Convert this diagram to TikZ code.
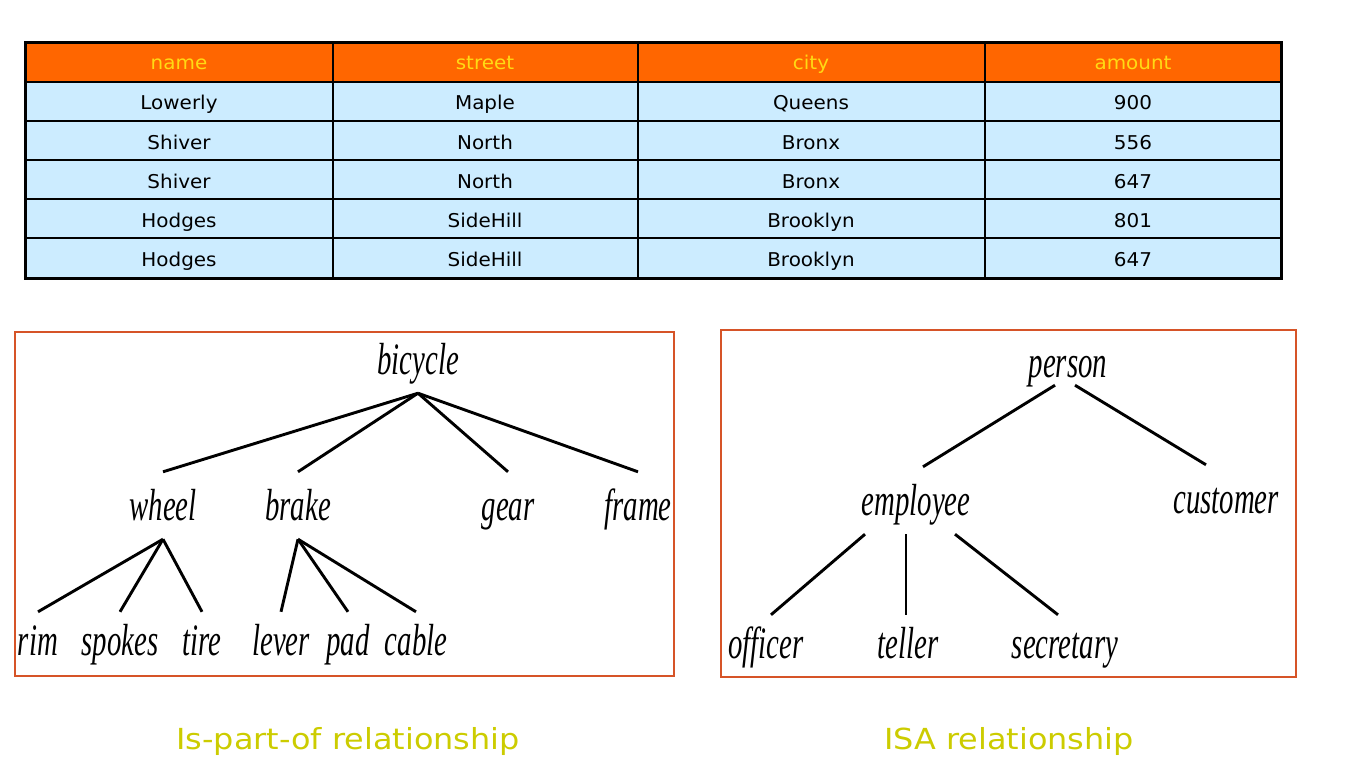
\documentclass[tikz,border=0pt]{standalone}
\usepackage{fontspec}
\usepackage{tikz}
\usetikzlibrary{positioning}
\newfontfamily\tabfont[FakeStretch=1.05]{DejaVu Sans}
\newfontfamily\capfont[FakeStretch=1.1]{DejaVu Sans}
\newfontfamily\treefont[FakeStretch=0.64]{Liberation Serif}
\definecolor{headorange}{RGB}{255,102,0}
\definecolor{headyellow}{RGB}{255,218,20}
\definecolor{rowblue}{RGB}{204,236,255}
\definecolor{boxred}{RGB}{214,84,40}
\definecolor{capolive}{RGB}{204,204,0}

\begin{document}
\begin{tikzpicture}[x=1pt,y=-1pt,
  cell/.style={font=\tabfont\fontsize{19}{19}\selectfont, anchor=base, inner sep=0pt},
  head/.style={cell, text=headyellow},
  tnode/.style={font=\treefont\itshape\fontsize{45}{45}\selectfont, anchor=base,
    text height=29pt, text depth=0pt, inner xsep=0pt, inner ysep=19pt},
  leaf/.style={tnode, text height=24pt},
  edge/.style={line width=2.9pt},
  caption/.style={font=\capfont\fontsize{29}{29}\selectfont, text=capolive, anchor=base}]
\useasboundingbox (0,0) rectangle (1353,768);
% Table
\fill[rowblue] (25,82) rectangle (1281,278);
\fill[headorange] (25,43) rectangle (1281,82);
\foreach \y in {82,121,160,199,238} \draw[line width=1.5pt] (25,\y) -- (1281,\y);
\foreach \x in {333,638,985} \draw[line width=1.5pt] (\x,43) -- (\x,278);
\draw[line width=3pt] (25,43) rectangle (1281,278);
% Header
\node[head] (h-name) at (179,70) {name};
\node[head] (h-street) at (485,70) {street};
\node[head] (h-city) at (811,70) {city};
\node[head] (h-amount) at (1133,70) {amount};
% Rows
\foreach \na/\st/\ci/\am [count=\r] in {Lowerly/Maple/Queens/900, Shiver/North/Bronx/556,
    Shiver/North/Bronx/647, Hodges/SideHill/Brooklyn/801, Hodges/SideHill/Brooklyn/647}{
  \node[cell] (name-\r) at (179,{110+39*(\r-1)}) {\na};
  \node[cell] (street-\r) at (485,{110+39*(\r-1)}) {\st};
  \node[cell] (city-\r) at (811,{110+39*(\r-1)}) {\ci};
  \node[cell] (amount-\r) at (1133,{110+39*(\r-1)}) {\am};
}
%
% Is-part-of tree
\draw[boxred, line width=1.8pt] (15,332) rectangle (674,676);
\node[tnode] (bicycle) at (418,374) {bicycle};
\node[tnode] (wheel) at (163,520) {wheel};
\node[tnode] (brake) at (298,520) {brake};
\node[tnode] (gear) at (508,520) {gear};
\node[tnode] (frame) at (638,520) {frame};
\node[leaf] (rim) at (38,655) {rim};
\node[leaf] (spokes) at (120,655) {spokes};
\node[leaf] (tire) at (202,655) {tire};
\node[leaf] (lever) at (281,655) {lever};
\node[leaf] (pad) at (348,655) {pad};
\node[leaf] (cable) at (416,655) {cable};
\foreach \c in {wheel,brake,gear,frame} \draw[edge] (bicycle.south) -- (\c.north);
\foreach \c in {rim,spokes,tire} \draw[edge] (wheel.south) -- (\c.north);
\foreach \c in {lever,pad,cable} \draw[edge] (brake.south) -- (\c.north);
%
% ISA tree
\draw[boxred, line width=1.8pt] (721,330) rectangle (1296,677);
\node[tnode] (person) at (1068,377) {person};
\node[tnode] (employee) at (916,515) {employee};
\node[tnode] (customer) at (1226,513) {customer};
\node[leaf] (officer) at (766,658) {officer};
\node[leaf] (teller) at (908,658) {teller};
\node[leaf] (secretary) at (1065,658) {secretary};
\draw[edge] ([xshift=-13pt,yshift=11pt]person.south) -- ([xshift=7pt]employee.north);
\draw[edge] ([xshift=7pt,yshift=11pt]person.south) -- ([xshift=-20pt]customer.north);
\draw[edge] ([xshift=-51pt]employee.south) -- ([xshift=5pt]officer.north);
\draw[line width=1.5pt] ([xshift=-10pt]employee.south) -- ([xshift=-2pt]teller.north);
\draw[edge] ([xshift=39pt]employee.south) -- ([xshift=-7pt]secretary.north);
%
% Captions
\node[caption] (cap-part) at (348,749) {Is-part-of relationship};
\node[caption] (cap-isa) at (1009,749) {ISA relationship};
\end{tikzpicture}
\end{document}
